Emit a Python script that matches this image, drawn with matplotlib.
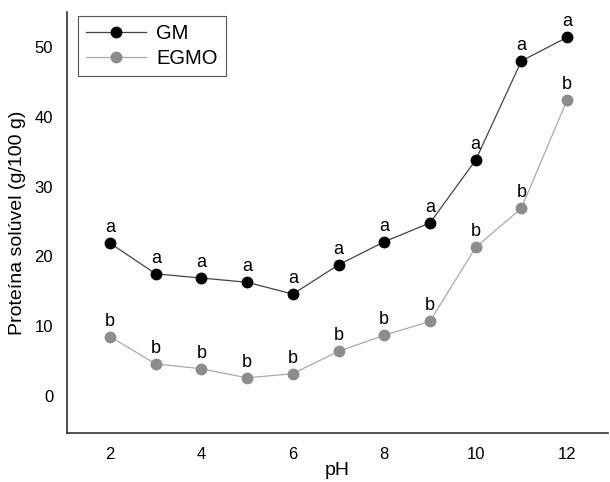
import matplotlib
matplotlib.use("Agg")
import matplotlib.pyplot as plt

plt.rcParams['font.family'] = ['Liberation Sans', 'DejaVu Sans']

ph = [2, 3, 4, 5, 6, 7, 8, 9, 10, 11, 12]
gm = [21.9, 17.5, 16.9, 16.3, 14.6, 18.8, 22.1, 24.8, 33.8, 48.0, 51.4]
egmo = [8.5, 4.6, 3.9, 2.6, 3.2, 6.4, 8.7, 10.7, 21.3, 26.9, 42.4]
gm_letters = ['a'] * 11
egmo_letters = ['b'] * 11
xticks = [2, 4, 6, 8, 10, 12]
yticks = [0, 10, 20, 30, 40, 50]

fig = plt.figure(figsize=(6.1, 4.82), dpi=100)
ax = fig.add_axes([0.11, 0.1017, 0.887, 0.873])

ax.plot(ph, gm, '-o', color='#444444', lw=0.9, markersize=7.5,
        markerfacecolor='black', markeredgecolor='black', label='GM')
ax.plot(ph, egmo, '-o', color='#aaaaaa', lw=0.9, markersize=7.5,
        markerfacecolor='#8c8c8c', markeredgecolor='#8c8c8c', label='EGMO')

for x, y, t in zip(ph, gm, gm_letters):
    ax.annotate(t, (x, y), xytext=(0, 5), textcoords='offset points',
                ha='center', va='bottom', fontsize=13)
for x, y, t in zip(ph, egmo, egmo_letters):
    ax.annotate(t, (x, y), xytext=(0, 5), textcoords='offset points',
                ha='center', va='bottom', fontsize=13)

ax.set_xlim(1.06, 12.9)
ax.set_ylim(-5.3, 55)
ax.set_xticks(xticks)
ax.set_yticks(yticks)
ax.tick_params(length=0, labelsize=12, pad=10)
for s in ['top', 'right']:
    ax.spines[s].set_visible(False)
for s in ['left', 'bottom']:
    ax.spines[s].set_linewidth(1.2)
    ax.spines[s].set_color('#333333')

ax.set_xlabel('pH', fontsize=14, labelpad=0)
ax.set_ylabel('Proteína solúvel (g/100 g)', fontsize=14, labelpad=6)

leg = ax.legend(loc='upper left', bbox_to_anchor=(0.012, 1.0), fontsize=14.5,
                fancybox=False, edgecolor='#555555', framealpha=1,
                handlelength=3.0, borderpad=0.4, labelspacing=0.3,
                handletextpad=0.5, borderaxespad=0.2)
leg.get_frame().set_linewidth(0.8)

fig.savefig('out.png', dpi=100)
